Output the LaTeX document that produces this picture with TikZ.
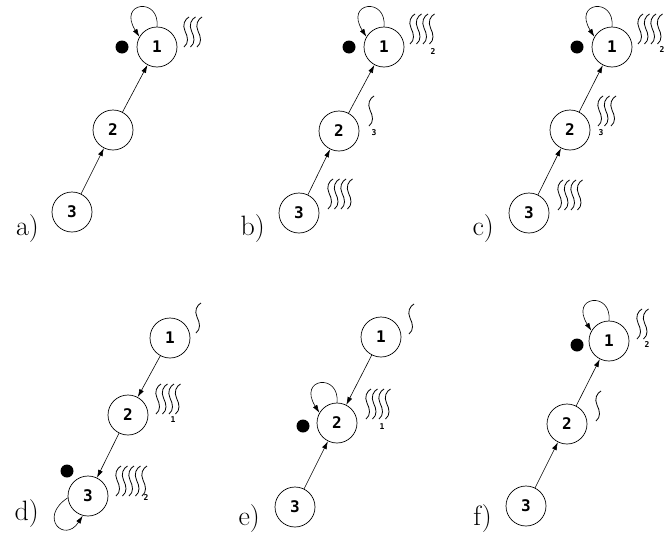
\documentclass[tikz,border=0pt]{standalone}
\usepackage{fontspec}
\usetikzlibrary{arrows.meta}
\newfontfamily\numfont{DejaVu Sans Mono}

\tikzset{
    state/.style={circle, draw, line width=0.7pt, minimum size=40pt, inner sep=0pt,
        font=\numfont\bfseries\fontsize{16}{16}\selectfont},
    token/.style={circle, fill, inner sep=0pt, minimum size=13pt},
    arr/.style={-{Latex[length=8pt,width=5pt]}, line width=0.6pt},
    wave/.style={line width=0.8pt},
    subno/.style={font=\numfont\bfseries\fontsize{8}{8}\selectfont, inner sep=0pt},
    panel/.style={font=\fontsize{28}{28}\selectfont, anchor=base east, inner sep=0pt}
}
% #1,#2 = top of the first squiggle, #3 = how many
\newcommand{\waves}[3]{%
    \foreach \k in {1,...,#3}
        \draw[wave, shift={({#1+(\k-1)*6.5},#2)}] (3,0) .. controls +(-4,-2) and +(-3,6) .. ++(-4,-14) .. controls +(3,-6) and +(5,4) .. ++(-1,-16);
}

\begin{document}
\begin{tikzpicture}[x=1pt, y=1pt]
    \useasboundingbox (0,0) rectangle (667,-536);
    % a)
        \node[state] (a1) at (157,-47) {1};
        \node[state] (a2) at (113,-130) {2};
        \node[state] (a3) at (72,-212) {3};
        \node[token] (ta) at (122,-47) {};
        \node[panel] (la) at (39,-235) {a)};
        \draw[arr] (a3) -- (a2);
        \draw[arr] (a2) -- (a1);
        \draw[arr] (a1.90) .. controls +(3,30) and +(-22,35) .. (a1.150);
        \waves{186}{-17}{3}
    % b)
        \node[state] (b1) at (384,-47) {1};
        \node[state] (b2) at (339,-131) {2};
        \node[state] (b3) at (299,-213) {3};
        \node[token] (tb) at (349,-47) {};
        \node[panel] (lb) at (265,-235) {b)};
        \draw[arr] (b3) -- (b2);
        \draw[arr] (b2) -- (b1);
        \draw[arr] (b1.90) .. controls +(3,30) and +(-22,35) .. (b1.150);
        \waves{412}{-14}{4}
        \node[subno] (sb1) at (433,-52) {2};
        \waves{371}{-96}{1}
        \node[subno] (sb2) at (374,-133) {3};
        \waves{330}{-179}{4}
    % c)
        \node[state] (c1) at (612,-47) {1};
        \node[state] (c2) at (570,-130) {2};
        \node[state] (c3) at (529,-213) {3};
        \node[token] (tc) at (577,-47) {};
        \node[panel] (lc) at (494,-235) {c)};
        \draw[arr] (c3) -- (c2);
        \draw[arr] (c2) -- (c1);
        \draw[arr] (c1.90) .. controls +(3,30) and +(-22,35) .. (c1.150);
        \waves{640}{-14}{4}
        \node[subno] (sc1) at (662,-50) {2};
        \waves{600}{-96}{3}
        \node[subno] (sc2) at (601,-133) {3};
        \waves{560}{-180}{4}
    % d)
        \node[state] (d1) at (170,-338) {1};
        \node[state] (d2) at (128,-415) {2};
        \node[state] (d3) at (88,-496) {3};
        \node[token] (td) at (67,-471) {};
        \node[panel] (ld) at (39,-520) {d)};
        \draw[arr] (d1) -- (d2);
        \draw[arr] (d2) -- (d3);
        \draw[arr] (d3.185) .. controls +(-30,-20) and +(-18,-28) .. (d3.255);
        \waves{198}{-303}{1}
        \waves{158}{-384}{4}
        \node[subno] (sd2) at (173,-420) {1};
        \waves{118}{-466}{5}
        \node[subno] (sd3) at (146,-498) {2};
    % e)
        \node[state] (e1) at (381,-337) {1};
        \node[state] (e2) at (337,-423) {2};
        \node[state] (e3) at (295,-507) {3};
        \node[token] (te) at (303,-426) {};
        \node[panel] (le) at (260,-525) {e)};
        \draw[arr] (e1) -- (e2);
        \draw[arr] (e3) -- (e2);
        \draw[arr] (e2.90) .. controls +(3,30) and +(-22,35) .. (e2.150);
        \waves{411}{-304}{1}
        \waves{368}{-389}{4}
        \node[subno] (se2) at (382,-427) {1};
    % f)
        \node[state] (f1) at (609,-341) {1};
        \node[state] (f2) at (567,-424) {2};
        \node[state] (f3) at (526,-506) {3};
        \node[token] (tf) at (577,-345) {};
        \node[panel] (lf) at (492,-525) {f)};
        \draw[arr] (f3) -- (f2);
        \draw[arr] (f2) -- (f1);
        \draw[arr] (f1.90) .. controls +(3,30) and +(-22,35) .. (f1.150);
        \waves{639}{-309}{2}
        \node[subno] (sf1) at (647,-345) {2};
        \waves{598}{-391}{1}
\end{tikzpicture}
\end{document}
